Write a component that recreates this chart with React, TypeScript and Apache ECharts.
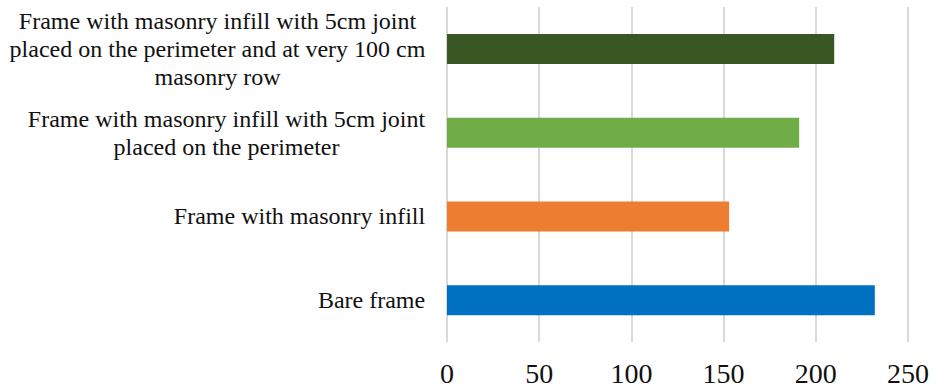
import React, { useEffect, useRef } from "react";
import * as echarts from "echarts";

// Specimens, listed bottom-to-top as they appear on the category axis
const categories: string[] = [
  "Bare frame",
  "Frame with masonry infill",
  "Frame with masonry infill with 5cm joint\nplaced on the perimeter",
  "Frame with masonry infill with 5cm joint\nplaced on the perimeter and at very 100 cm\nmasonry row",
];
const values: number[] = [232, 153, 191, 210];
const barColors: string[] = ["#0070C0", "#ED7D31", "#70AD47", "#385723"];

const xMin = 0;
const xMax = 250;
const xStep = 50;

const FONT_FAMILY = '"Liberation Serif", "Times New Roman", serif';
const CAT_FONT_SIZE = 24;
const CAT_LINE_HEIGHT = 28;

// Widest line of each label, so multi-line labels can be centred as a block
function widestLine(label: string): number {
  const ctx = document.createElement("canvas").getContext("2d");
  if (!ctx) return 0;
  ctx.font = `${CAT_FONT_SIZE}px ${FONT_FAMILY}`;
  return Math.max(...label.split("\n").map((l) => ctx.measureText(l).width));
}

export default function App() {
  const ref = useRef<HTMLDivElement>(null);

  useEffect(() => {
    if (!ref.current) return;
    const chart = echarts.init(ref.current, undefined, { renderer: "svg" });

    const rich: Record<string, any> = {};
    categories.forEach((c, i) => {
      rich[`l${i}`] = {
        width: Math.ceil(widestLine(c)) + 1,
        align: "center",
        fontSize: CAT_FONT_SIZE,
        fontFamily: FONT_FAMILY,
        lineHeight: CAT_LINE_HEIGHT,
        color: "#111111",
      };
    });

    chart.setOption({
      animation: false,
      backgroundColor: "#ffffff",
      grid: { left: 447, right: 25, top: 7, bottom: 50, containLabel: false },
      xAxis: {
        type: "value",
        min: xMin,
        max: xMax,
        interval: xStep,
        axisLine: { show: false },
        axisTick: { show: false },
        splitLine: { show: true, lineStyle: { color: "#d9d9d9", width: 2 } },
        axisLabel: {
          margin: 17,
          fontSize: 28,
          fontFamily: FONT_FAMILY,
          color: "#111111",
        },
      },
      yAxis: {
        type: "category",
        data: categories,
        axisLine: { show: false },
        axisTick: { show: false },
        axisLabel: {
          margin: 21,
          align: "right",
          interval: 0,
          formatter: (value: string, index: number) =>
            value
              .split("\n")
              .map((line) => `{l${index}|${line}}`)
              .join("\n"),
          rich,
        },
      },
      series: [
        {
          type: "bar",
          barWidth: 30,
          data: values.map((v, i) => ({
            value: v,
            itemStyle: { color: barColors[i] },
          })),
        },
      ],
    });

    return () => chart.dispose();
  }, []);

  return (
    <div
      ref={ref}
      style={{ position: "absolute", left: 0, top: 0, width: 933, height: 392 }}
    />
  );
}
